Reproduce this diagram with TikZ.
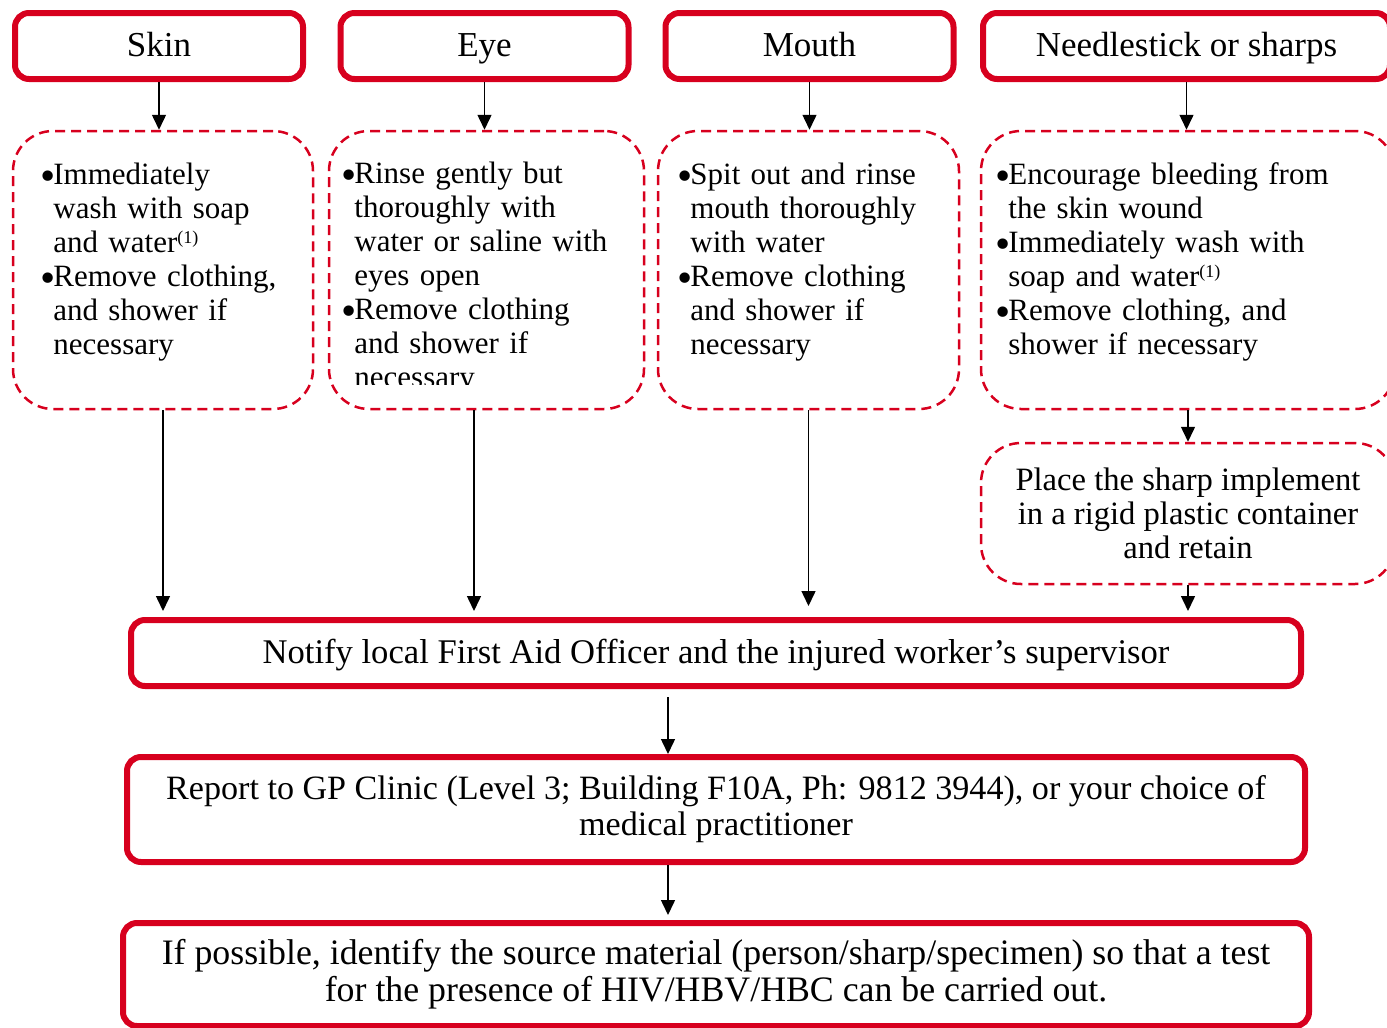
\documentclass[tikz,border=0pt]{standalone}
\usepackage{fontspec}
\setmainfont{Liberation Serif}
\usepackage{tikz}
\usetikzlibrary{positioning}
\usetikzlibrary{arrows.meta}
\usetikzlibrary{calc}

\definecolor{alertred}{HTML}{D7001E}
\newcommand{\bitem}{\noindent\hangindent=6.5pt\hangafter=1\makebox[6.5pt][l]{\raisebox{-3.4pt}{\scalebox{1.4}{\textbullet}}}}
\newcommand{\fnref}{\raisebox{4.5pt}{\fontsize{9}{9}\selectfont(1)}}

\begin{document}
\begin{tikzpicture}[ x = 0.5pt
                   , y = -0.5pt
                   , font = \fontsize{15.5}{17}\selectfont
                   , >={Triangle[width=7pt, length=7.5pt]}
                   , every node/.style = { align = center }
                   ]
  \useasboundingbox (0,0) rectangle (1387,1028);

  %%
  %% Nodes
  %%
  \tikzset{ route/.style={draw=alertred, line width=3pt, rounded corners=7pt,
                          minimum height=33pt, inner sep=0pt,
                          font=\fontsize{17.5}{18}\selectfont}
          , oneline/.style={text height=13pt, text depth=3pt}
          , action/.style={draw=alertred, line width=1.25pt,
                           dash pattern=on 5pt off 3pt, rounded corners=20pt,
                           inner sep=0pt}
          , bullets/.style={anchor=base west, align=left, text width=200pt,
                            inner sep=0pt}
          , link/.style={->, line width=0.75pt}
          }

  \node (skin) [route, oneline, minimum width=144pt] at (159,46) {Skin};
  \node (eye) [route, oneline, minimum width=144pt] at (484.5,46) {Eye};
  \node (mouth) [route, oneline, minimum width=144pt] at (809.5,46) {Mouth};
  \node (needle) [route, oneline, minimum width=203.5pt] at (1186.5,46) {Needlestick or sharps};

  \node (skinact) [action, minimum width=150pt, minimum height=139pt] at (163,270) {};
  \node (eyeact) [action, minimum width=157.5pt, minimum height=139pt] at (486.5,270) {};
  \node (mouthact) [action, minimum width=150.5pt, minimum height=139pt] at (808.5,270) {};
  \node (needleact) [action, minimum width=207pt, minimum height=139pt] at (1188,270) {};
  \node (place) [action, minimum width=207pt, minimum height=70.5pt,
                 font=\fontsize{16.3}{17}\selectfont,
                 below = 15.75pt of needleact]
        {Place the sharp implement\\ in a rigid plastic container\\ and retain};

  \node (skintxt) [bullets] at (40,184)
        {\bitem Immediately\newline wash with soap\newline and water\fnref\par
         \bitem Remove clothing,\newline and shower if\newline necessary\par};
  \begin{scope}
    \clip (eyeact.north west) rectangle ($(eyeact.south east)+(0,-26)$);
    \node (eyetxt) [bullets] at (341,183)
          {\bitem Rinse gently but\newline thoroughly with\newline water or saline with\newline eyes open\par
           \bitem Remove clothing\newline and shower if\newline necessary\par};
  \end{scope}
  \node (mouthtxt) [bullets] at (677,184)
        {\bitem Spit out and rinse\newline mouth thoroughly\newline with water\par
         \bitem Remove clothing\newline and shower if\newline necessary\par};
  \node (needletxt) [bullets] at (995,184)
        {\bitem Encourage bleeding from\newline the skin wound\par
         \bitem Immediately wash with\newline soap and water\fnref\par
         \bitem Remove clothing, and\newline shower if necessary\par};

  \node (notify) [route, oneline, minimum width=585pt,
                  font=\fontsize{17.3}{18}\selectfont] at (716,653)
        {Notify local First Aid Officer and the injured worker’s supervisor};
  \node (report) [route, minimum width=589pt, minimum height=52.5pt,
                  font=\fontsize{17.05}{18}\selectfont] at (716,809.5)
        {Report to GP Clinic (Level 3; Building F10A, Ph: 9812 3944), or your choice of\\ medical practitioner};
  \node (source) [route, minimum width=593pt, minimum height=51.5pt,
                  font=\fontsize{17.9}{18.5}\selectfont] at (716,974.5)
        {If possible, identify the source material (person/sharp/specimen) so that a test\\ for the presence of HIV/HBV/HBC can be carried out.};

  %%
  %% Arrows
  %%
  \coordinate (eyedrop) at ($(eyeact.south)+(-12.5,0)$);
  \coordinate (notifydrop) at ($(notify.south)+(-48,0)$);
  % Top row to the first aid steps.
  \draw[link] (skin) -- (skin |- skinact.north);
  \draw[link] (eye) -- (eye |- eyeact.north);
  \draw[link] (mouth) -- (mouth |- mouthact.north);
  \draw[link] (needle) -- (needle |- needleact.north);
  \draw[link] (needleact) -- (place);
  % Down to the notification.
  \draw[link, shorten >=3pt] (skinact) -- (skinact |- notify.north);
  \draw[link, shorten >=3pt] (eyedrop) -- (eyedrop |- notify.north);
  \draw[link, shorten >=5.5pt] (mouthact) -- (mouthact |- notify.north);
  \draw[link, shorten >=3pt] (place) -- (place |- notify.north);
  % Bottom chain.
  \draw[link, shorten <=4pt] (notifydrop) -- (notifydrop |- report.north);
  \draw[link, shorten >=2.5pt] (report.south -| notifydrop) -- (notifydrop |- source.north);
\end{tikzpicture}
\end{document}
